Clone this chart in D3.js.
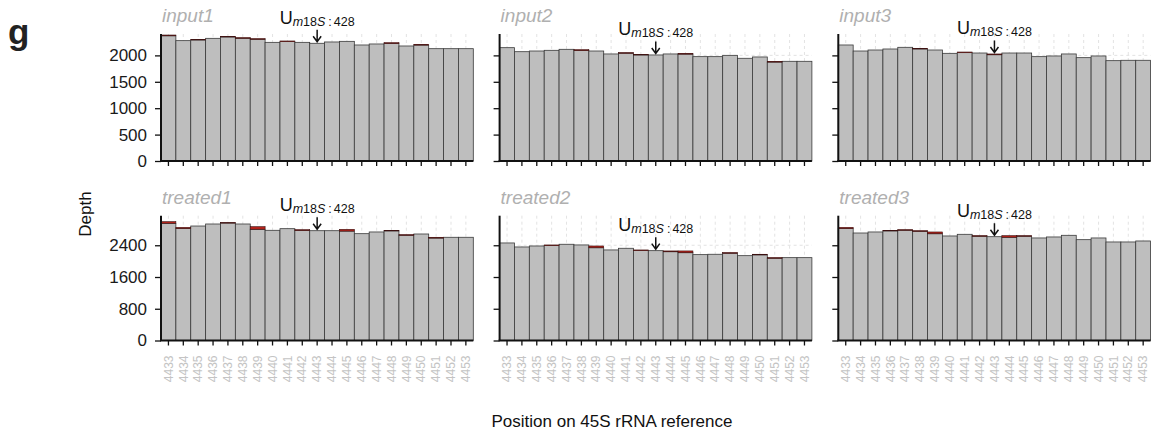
<!DOCTYPE html>
<html>
<head>
<meta charset="utf-8">
<script src="https://cdn.jsdelivr.net/npm/d3@7"></script>
<style>
  html, body { margin: 0; padding: 0; background: #fff; }
  svg { display: block; }
  text { font-family: "Liberation Sans", Arial, sans-serif; }
</style>
</head>
<body>
<svg id="chart" width="1152" height="432"></svg>
<script>
// Positions on the 45S rRNA reference (x categories)
const positions = [4433, 4434, 4435, 4436, 4437, 4438, 4439, 4440, 4441, 4442, 4443,
                   4444, 4445, 4446, 4447, 4448, 4449, 4450, 4451, 4452, 4453];
const markedPosition = 4443;
const markLabelMain = "U";
const markLabelSub = ["m", "18", "S", ":", "428"];

const samples = ["input1", "input2", "input3", "treated1", "treated2", "treated3"];

// Read depth per position
const input1Depth   = [2386, 2279, 2304, 2323, 2361, 2336, 2317, 2247, 2273, 2247, 2229,
                       2254, 2266, 2197, 2216, 2241, 2178, 2210, 2127, 2127, 2127];
const input2Depth   = [2146, 2070, 2083, 2096, 2115, 2108, 2083, 2027, 2051, 2020, 2008,
                       2027, 2039, 1976, 1976, 2001, 1945, 1970, 1888, 1888, 1888];
const input3Depth   = [2197, 2083, 2102, 2121, 2153, 2134, 2102, 2039, 2064, 2045, 2027,
                       2045, 2045, 1976, 1989, 2027, 1957, 1989, 1900, 1907, 1907];
const treated1Depth = [2994, 2852, 2885, 2936, 2969, 2936, 2868, 2777, 2818, 2793, 2767,
                       2767, 2802, 2692, 2735, 2777, 2667, 2684, 2601, 2601, 2601];
const treated2Depth = [2458, 2357, 2382, 2408, 2425, 2408, 2382, 2282, 2324, 2282, 2264,
                       2257, 2257, 2164, 2173, 2214, 2138, 2173, 2088, 2088, 2088];
const treated3Depth = [2852, 2709, 2735, 2777, 2793, 2767, 2735, 2634, 2676, 2642, 2616,
                       2642, 2642, 2584, 2609, 2651, 2541, 2584, 2483, 2483, 2508];

// Mismatched reads (top part of each bar)
const input1Mismatch   = [15, 0, 12, 0, 12, 12, 12, 0, 12, 0, 0, 0, 0, 0, 0, 15, 0, 15, 0, 0, 0];
const input2Mismatch   = [0, 0, 0, 0, 0, 15, 0, 0, 10, 12, 0, 0, 15, 0, 0, 0, 0, 0, 15, 0, 0];
const input3Mismatch   = [0, 0, 0, 0, 0, 12, 0, 0, 12, 0, 15, 0, 0, 0, 0, 0, 0, 0, 0, 0, 0];
const treated1Mismatch = [40, 30, 0, 0, 10, 0, 65, 0, 0, 20, 0, 0, 45, 0, 0, 15, 15, 0, 20, 0, 0];
const treated2Mismatch = [0, 0, 0, 15, 0, 0, 45, 0, 0, 15, 0, 20, 45, 0, 0, 15, 0, 15, 15, 0, 0];
const treated3Mismatch = [30, 0, 0, 15, 15, 15, 45, 0, 0, 15, 0, 40, 15, 0, 0, 0, 0, 0, 0, 0, 0];

const depthSeries = [input1Depth, input2Depth, input3Depth, treated1Depth, treated2Depth, treated3Depth];
const mismatchSeries = [input1Mismatch, input2Mismatch, input3Mismatch,
                        treated1Mismatch, treated2Mismatch, treated3Mismatch];

const topRowTicks = [0, 500, 1000, 1500, 2000];
const bottomRowTicks = [0, 800, 1600, 2400];

// ---- layout ----
const svg = d3.select("#chart");
const panelLeft = [161, 499.6, 838.3];
const panelWidth = 312.3;
const rows = [
  { top: 34, bottom: 161, max: 2405, ticks: topRowTicks },
  { top: 215.7, bottom: 340.5, max: 3145, ticks: bottomRowTicks }
];
const barFill = "#bebebe";
const mismatchFill = "#b3231b";

samples.forEach((name, i) => {
  const row = rows[Math.floor(i / 3)];
  const col = i % 3;
  const x0 = panelLeft[col];
  const x = d3.scaleBand().domain(positions).range([x0, x0 + panelWidth]).padding(0);
  const y = d3.scaleLinear().domain([0, row.max]).range([row.bottom, row.top]);
  const g = svg.append("g");

  // dashed grid behind the bars
  g.append("g").selectAll("line.vgrid").data(positions).join("line")
    .attr("x1", d => x(d) + x.bandwidth() / 2).attr("x2", d => x(d) + x.bandwidth() / 2)
    .attr("y1", row.top).attr("y2", row.bottom)
    .attr("stroke", "#dcdcdc").attr("stroke-width", 0.8).attr("stroke-dasharray", "3,3");
  g.append("g").selectAll("line.hgrid").data(row.ticks.slice(1)).join("line")
    .attr("x1", x0).attr("x2", x0 + panelWidth)
    .attr("y1", d => y(d)).attr("y2", d => y(d))
    .attr("stroke", "#dcdcdc").attr("stroke-width", 0.8).attr("stroke-dasharray", "3,3");

  const data = positions.map((p, k) => ({ pos: p, depth: depthSeries[i][k], mis: mismatchSeries[i][k] }));

  // matched reads
  g.append("g").selectAll("rect").data(data).join("rect")
    .attr("x", d => x(d.pos)).attr("width", x.bandwidth())
    .attr("y", d => y(d.depth - d.mis))
    .attr("height", d => y(0) - y(d.depth - d.mis))
    .attr("fill", barFill).attr("stroke", "#3a3a3a").attr("stroke-width", 0.8);

  // mismatched reads stacked on top
  g.append("g").selectAll("rect").data(data.filter(d => d.mis > 0)).join("rect")
    .attr("x", d => x(d.pos)).attr("width", x.bandwidth())
    .attr("y", d => y(d.depth))
    .attr("height", d => y(d.depth - d.mis) - y(d.depth))
    .attr("fill", mismatchFill).attr("stroke", "#3a1010").attr("stroke-width", 0.6);

  // y axis
  const yAxis = d3.axisLeft(y).tickValues(row.ticks).tickSize(6).tickPadding(8)
    .tickSizeOuter(0).tickFormat(d3.format("d"));
  if (col !== 0) yAxis.tickFormat("");
  const ya = g.append("g").attr("transform", `translate(${x0},0)`).call(yAxis);
  ya.select(".domain").attr("stroke", "#111").attr("stroke-width", 2)
    .attr("d", `M0,${row.top}V${row.bottom}`);
  ya.selectAll(".tick line").attr("stroke", "#111").attr("stroke-width", 1.3);
  ya.selectAll(".tick text").attr("font-size", 17).attr("fill", "#1a1a1a")
    .attr("font-family", "Liberation Sans, Arial, sans-serif");

  // x axis
  const xAxis = d3.axisBottom(x).tickSize(5).tickSizeOuter(0).tickPadding(4);
  const xa = g.append("g").attr("transform", `translate(0,${row.bottom})`).call(xAxis);
  xa.select(".domain").attr("stroke", "#111").attr("stroke-width", 2)
    .attr("d", `M${x0 - 1},0H${x0 + panelWidth}`);
  xa.selectAll(".tick line").attr("stroke", "#111").attr("stroke-width", 1.3);
  if (i >= 3) {
    xa.selectAll(".tick text")
      .attr("font-size", 12).attr("fill", "#c4c4c4")
      .attr("font-family", "Liberation Sans, Arial, sans-serif")
      .attr("text-anchor", "end")
      .attr("transform", "translate(0,15) rotate(-90)")
      .attr("x", 0).attr("y", 0).attr("dy", "0.35em");
  } else {
    xa.selectAll(".tick text").remove();
  }

  // panel title
  g.append("text")
    .attr("x", x0 + 1).attr("y", row.top - 12)
    .attr("font-size", 19).attr("font-style", "italic").attr("fill", "#b0b0b0")
    .text(name);

  // annotation of the modified site
  const k = positions.indexOf(markedPosition);
  const cx = x(markedPosition) + x.bandwidth() / 2;
  const barTop = y(depthSeries[i][k]);
  const base = barTop - 19.5;
  const label = g.append("text")
    .attr("x", cx).attr("y", base).attr("text-anchor", "middle")
    .attr("font-family", "DejaVu Sans, sans-serif").attr("fill", "#111");
  label.append("tspan").attr("font-size", 18).text(markLabelMain);
  label.append("tspan").attr("font-size", 12.5).attr("font-style", "italic").attr("dy", 2).text(markLabelSub[0]);
  label.append("tspan").attr("font-size", 12.5).text(markLabelSub[1]);
  label.append("tspan").attr("font-size", 12.5).attr("font-style", "italic").text(markLabelSub[2]);
  label.append("tspan").attr("font-size", 12.5).attr("dx", 3).text(markLabelSub[3]);
  label.append("tspan").attr("font-size", 12.5).attr("dx", 2).text(markLabelSub[4]);

  const tip = barTop - 1.5;
  g.append("path")
    .attr("d", `M${cx},${base + 6}V${tip}M${cx - 4},${tip - 5.5}L${cx},${tip}L${cx + 4},${tip - 5.5}`)
    .attr("fill", "none").attr("stroke", "#111").attr("stroke-width", 1.5);
});

// panel letter
svg.append("text").attr("x", 8).attr("y", 44)
  .attr("font-size", 35).attr("font-weight", "bold").attr("fill", "#222").text("g");

// shared axis titles
svg.append("text")
  .attr("transform", "translate(91,214) rotate(-90)")
  .attr("text-anchor", "middle").attr("font-size", 17).attr("fill", "#111")
  .text("Depth");
svg.append("text")
  .attr("x", 612).attr("y", 427).attr("text-anchor", "middle")
  .attr("font-size", 17).attr("fill", "#111")
  .text("Position on 45S rRNA reference");
</script>
</body>
</html>
